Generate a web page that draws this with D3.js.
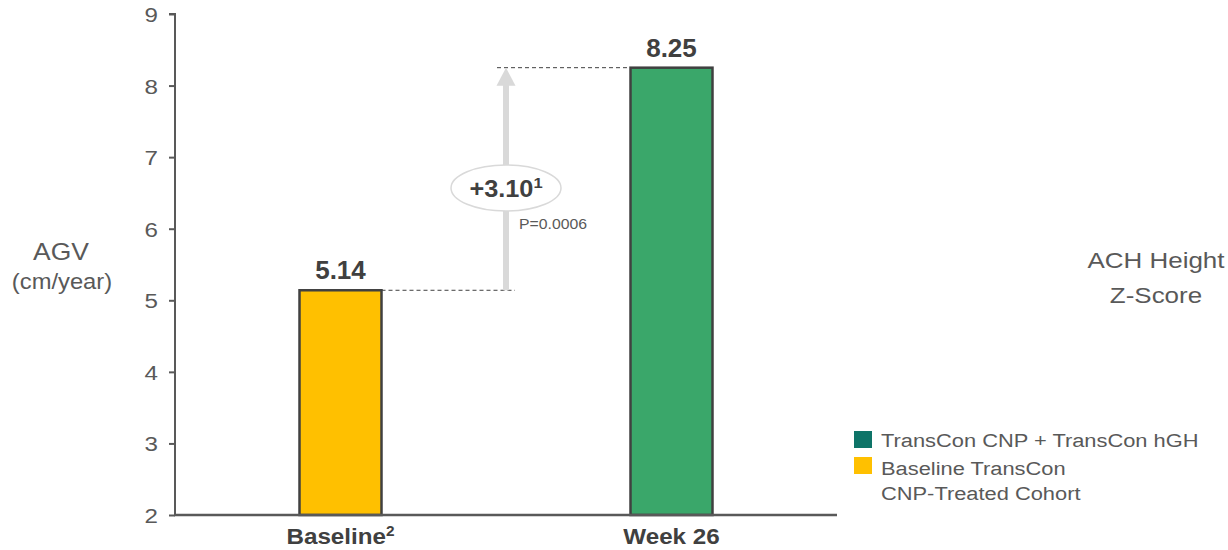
<!DOCTYPE html>
<html>
<head>
<meta charset="utf-8">
<script src="https://cdn.jsdelivr.net/npm/d3@7"></script>
<style>
  html, body { margin: 0; padding: 0; background: #fff; }
  svg text { font-family: "Liberation Sans", Arial, sans-serif; }
</style>
</head>
<body>
<svg id="chart" width="1228" height="550"></svg>
<script>
// AGV by timepoint
const categories = ["Baseline", "Week 26"];
const categorySup = ["2", ""];
const agvValues = [5.14, 8.25];
const barColors = ["#FFC000", "#3AA76A"];
const yTicks = [2, 3, 4, 5, 6, 7, 8, 9];
const changeLabel = "+3.10";
const changeSup = "1";
const pValueLabel = "P=0.0006";
const legendLines = ["TransCon CNP + TransCon hGH", "Baseline TransCon", "CNP-Treated Cohort"];
const legendColors = ["#0E7468", "#FFC000"];

const svg = d3.select("#chart");
const axisColor = "#595959";
const darkText = "#404040";

// widen a text element horizontally around its anchor point
function widen(sel, sx) {
  sel.each(function () {
    const t = d3.select(this);
    const ax = +t.attr("x") || 0;
    t.attr("transform", `translate(${ax},0) scale(${sx},1) translate(${-ax},0)`);
  });
  return sel;
}

const x = d3.scalePoint().domain(categories).range([175, 837]).padding(0.5);
const y = d3.scaleLinear().domain([2, 9]).range([515, 14]);
const barW = 82;

// y axis
const yAxis = svg.append("g").attr("transform", "translate(175,0)")
  .call(d3.axisLeft(y).tickValues(yTicks).tickSize(6).tickPadding(0).tickFormat(d3.format("d")));
yAxis.select(".domain").attr("stroke", axisColor).attr("stroke-width", 2).attr("d", `M-6,${y(9)}H0V${y(2)}`);
yAxis.selectAll(".tick line").attr("stroke", axisColor).attr("stroke-width", 2);
yAxis.selectAll(".tick text").attr("fill", axisColor).style("font-size", "21px")
  .attr("x", -17).attr("dy", "0.36em");
widen(yAxis.selectAll(".tick text"), 1.15);

// bars
svg.append("g").selectAll("rect").data(agvValues).join("rect")
  .attr("x", (d, i) => x(categories[i]) - barW / 2)
  .attr("y", d => y(d))
  .attr("width", barW)
  .attr("height", d => y(2) - y(d))
  .attr("fill", (d, i) => barColors[i])
  .attr("stroke", darkText)
  .attr("stroke-width", 2.5);

// x axis baseline
svg.append("line").attr("x1", 174).attr("x2", 837).attr("y1", y(2)).attr("y2", y(2))
  .attr("stroke", axisColor).attr("stroke-width", 2.5);

// category labels
const catText = svg.append("g").selectAll("text").data(categories).join("text")
  .attr("x", d => x(d)).attr("y", 544)
  .attr("text-anchor", "middle").attr("fill", darkText)
  .style("font-size", "22px").style("font-weight", "bold");
catText.text(d => d);
catText.append("tspan").attr("dy", -8).style("font-size", "14px").text((d, i) => categorySup[i]);
widen(catText, 1.1);

// value labels
const valText = svg.append("g").selectAll("text").data(agvValues).join("text")
  .attr("x", (d, i) => x(categories[i]))
  .attr("y", d => y(d) - 11)
  .attr("text-anchor", "middle").attr("fill", darkText)
  .style("font-size", "25px").style("font-weight", "bold")
  .text(d => d.toFixed(2));
widen(valText, 1.04);

// change arrow between baseline and week 26
const ax = 506;
const yLow = y(agvValues[0]), yHigh = y(agvValues[1]);
svg.append("line").attr("x1", x(categories[0]) + barW / 2).attr("x2", ax + 9)
  .attr("y1", yLow).attr("y2", yLow)
  .attr("stroke", darkText).attr("stroke-width", 1).attr("stroke-dasharray", "4,3");
svg.append("line").attr("x1", ax - 9).attr("x2", x(categories[1]) - barW / 2)
  .attr("y1", yHigh).attr("y2", yHigh)
  .attr("stroke", darkText).attr("stroke-width", 1).attr("stroke-dasharray", "4,3");
svg.append("line").attr("x1", ax).attr("x2", ax).attr("y1", yLow).attr("y2", yHigh + 16)
  .attr("stroke", "#D9D9D9").attr("stroke-width", 6);
svg.append("path")
  .attr("d", `M${ax},${yHigh} L${ax + 9.5},${yHigh + 18} L${ax - 9.5},${yHigh + 18} Z`)
  .attr("fill", "#D9D9D9");

const midY = 188;
svg.append("ellipse").attr("cx", ax).attr("cy", midY).attr("rx", 55).attr("ry", 23)
  .attr("fill", "#fff").attr("stroke", "#D9D9D9").attr("stroke-width", 1.5);
const ct = svg.append("text").attr("x", ax).attr("y", midY + 9)
  .attr("text-anchor", "middle").attr("fill", darkText)
  .style("font-size", "23px").style("font-weight", "bold");
ct.append("tspan").text(changeLabel);
ct.append("tspan").attr("dy", -9).style("font-size", "15px").text(changeSup);
widen(ct, 1.1);
widen(svg.append("text").attr("x", 519).attr("y", 229).attr("fill", axisColor)
  .style("font-size", "14px").text(pValueLabel), 1.13);

// axis titles
const titles = [
  { t: "AGV", x: 61, y: 260, s: 23, sx: 1.15 },
  { t: "(cm/year)", x: 62, y: 289, s: 22, sx: 1.08 },
  { t: "ACH Height", x: 1156, y: 268, s: 22, sx: 1.18 },
  { t: "Z-Score", x: 1156, y: 303, s: 22, sx: 1.18 }
];
titles.forEach(d => {
  widen(svg.append("text").attr("x", d.x).attr("y", d.y).attr("text-anchor", "middle")
    .attr("fill", axisColor).style("font-size", d.s + "px").text(d.t), d.sx);
});

// legend
svg.append("g").selectAll("rect").data(legendColors).join("rect")
  .attr("x", 854).attr("y", (d, i) => 431 + i * 26)
  .attr("width", 18).attr("height", 17).attr("fill", d => d);
const lgText = svg.append("g").selectAll("text").data(legendLines).join("text")
  .attr("x", 881).attr("y", (d, i) => [447, 475, 500][i])
  .attr("fill", axisColor).style("font-size", "19px").text(d => d);
widen(lgText, 1.15);
</script>
</body>
</html>
